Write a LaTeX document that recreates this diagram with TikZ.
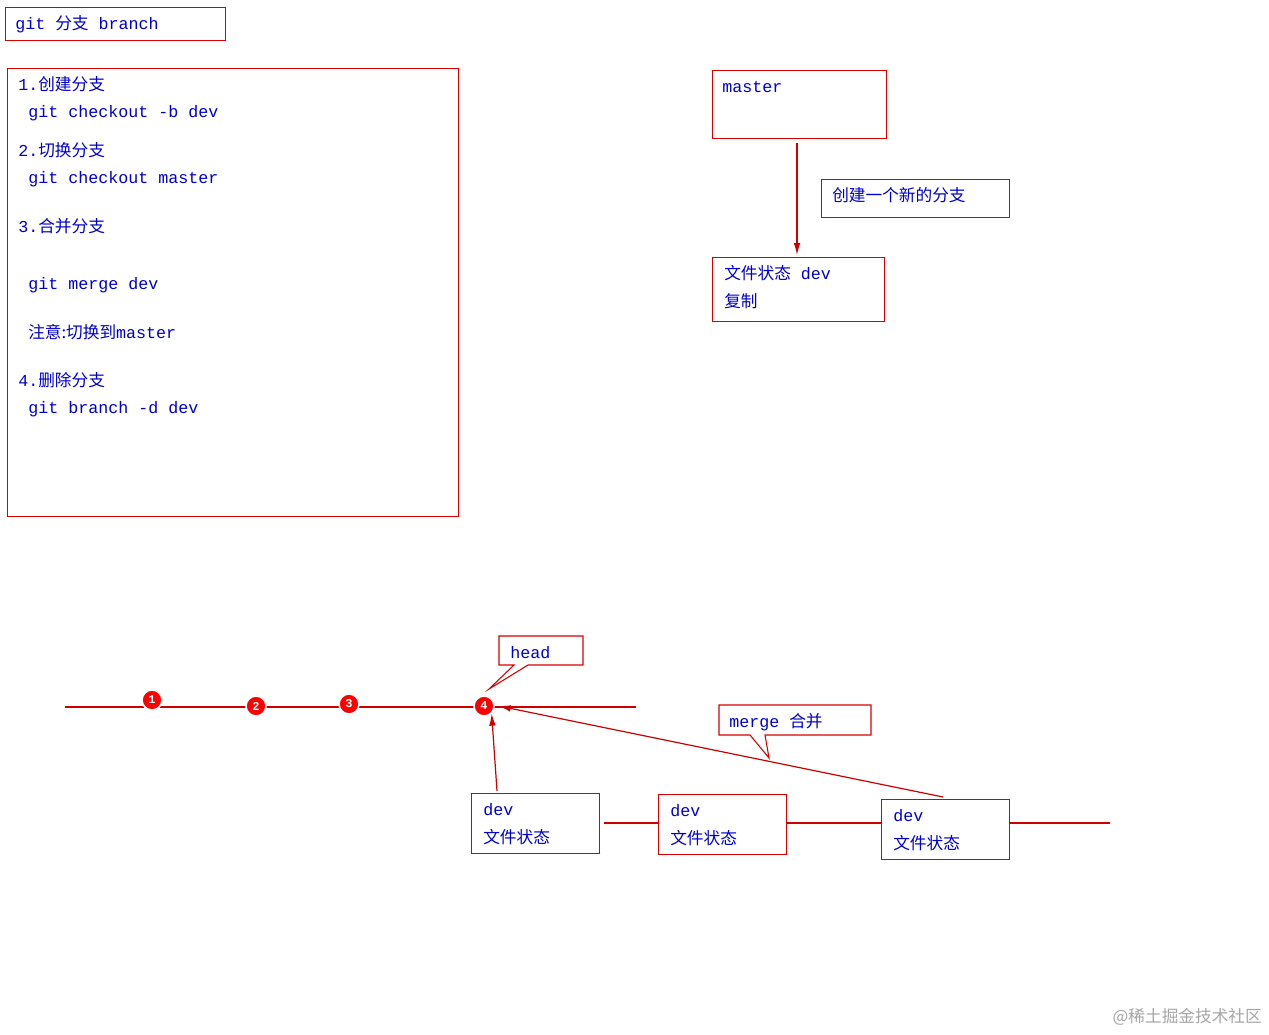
\documentclass[tikz,border=0pt]{standalone}
\usepackage{fontspec}
\setmainfont{Liberation Mono}
\newfontfamily\cjk{Noto Sans CJK SC}
\begin{document}
\begin{tikzpicture}[x=0.75pt,y=-0.75pt,
  box/.style={draw=red!85!black,line width=0.8pt},
  txt/.style={anchor=west,inner sep=0,text=blue!80!black,font=\fontsize{12.5}{14}\selectfont},
  ln/.style={draw=red!80!black,line width=1pt},
  arr/.style={draw=red!80!black,line width=0.9pt,-{Latex[length=9pt,width=5pt]}},
  dot/.style={circle,fill=red,draw=white,line width=1.2pt,minimum size=15pt,inner sep=0,text=white,font=\bfseries\fontsize{9}{9}\selectfont}]
\useasboundingbox[fill=white] (0,0) rectangle (1269,1034);
\usetikzlibrary{arrows.meta}
% title
\node[box,minimum width=220*0.75pt,minimum height=33*0.75pt,anchor=north west,inner sep=0] (title) at (5,7) {};
\node[txt] (tt) at (15,24) {git {\cjk 分支} branch};
% commands box
\node[box,minimum width=451*0.75pt,minimum height=448*0.75pt,anchor=north west,inner sep=0] (cmd) at (7,68) {};
\node[txt] (c1) at (18,84) {1.{\cjk 创建分支}};
\node[txt] (c2) at (28,113) {git checkout -b dev};
\node[txt] (c3) at (18,150) {2.{\cjk 切换分支}};
\node[txt] (c4) at (28,179) {git checkout master};
\node[txt] (c5) at (18,226) {3.{\cjk 合并分支}};
\node[txt] (c6) at (28,285) {git merge dev};
\node[txt] (c7) at (28,332) {{\cjk 注意:切换到}master};
\node[txt] (c8) at (18,380) {4.{\cjk 删除分支}};
\node[txt] (c9) at (28,409) {git branch -d dev};
% master
\node[box,minimum width=174*0.75pt,minimum height=68*0.75pt,anchor=north west,inner sep=0] (master) at (712,70) {};
\node[txt] (mt) at (722,87) {master};
\node[box,minimum width=188*0.75pt,minimum height=38*0.75pt,anchor=north west,inner sep=0] (new) at (821,179) {};
\node[txt] (nt) at (832,195) {\cjk 创建一个新的分支};
\node[box,minimum width=172*0.75pt,minimum height=64*0.75pt,anchor=north west,inner sep=0] (fs) at (712,257) {};
\node[txt] (ft1) at (724,273) {{\cjk 文件状态} dev};
\node[txt] (ft2) at (724,301) {\cjk 复制};
\coordinate (ms) at (797,143);
\coordinate (me) at (797,255);
\draw[arr] (ms) -- (me);
% timeline
\coordinate (l0) at (65,707);
\coordinate (l1) at (636,707);
\draw[ln] (l0) -- (l1);
\node[dot] (d1) at (152,700) {1};
\node[dot] (d2) at (256,706) {2};
\node[dot] (d3) at (349,704) {3};
\node[dot] (d4) at (484,706) {4};
% head callout
\draw[box,fill=white] (499,636) -- (583,636) -- (583,665) -- (528,665) -- (489,689) -- (514,665) -- (499,665) -- cycle;
\node[txt] (ht) at (510,653) {head};
% dev boxes
\coordinate (r0) at (604,823);
\coordinate (r1) at (1110,823);
\draw[ln] (r0) -- (r1);
\node[box,fill=white,minimum width=128*0.75pt,minimum height=60*0.75pt,anchor=north west,inner sep=0] (b1) at (471,793) {};
\node[txt] at (483,810) {dev};
\node[txt] at (483,837) {\cjk 文件状态};
\node[box,fill=white,minimum width=128*0.75pt,minimum height=60*0.75pt,anchor=north west,inner sep=0] (b2) at (658,794) {};
\node[txt] at (670,811) {dev};
\node[txt] at (670,838) {\cjk 文件状态};
\node[box,fill=white,minimum width=128*0.75pt,minimum height=60*0.75pt,anchor=north west,inner sep=0] (b3) at (881,799) {};
\node[txt] at (893,816) {dev};
\node[txt] at (893,843) {\cjk 文件状态};
\coordinate (a1) at (497,791);
\coordinate (a2) at (943,797);
\draw[arr] (a1) -- (d4.south east);
\draw[arr] (a2) -- ([xshift=3pt]d4.east);
% merge callout
\draw[box,fill=white] (719,705) -- (871,705) -- (871,735) -- (765,735) -- (769,758) -- (750,735) -- (719,735) -- cycle;
\node[txt] at (729,722) {merge {\cjk 合并}};
\node[anchor=south east,inner sep=0,text=gray!70,font=\cjk\fontsize{12.5}{14}\selectfont] (wm) at (1262,1026) {@稀土掘金技术社区};
\end{tikzpicture}
\end{document}
